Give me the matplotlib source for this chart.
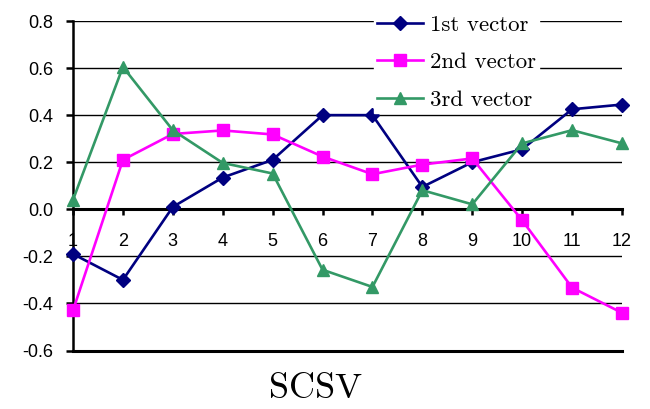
import matplotlib
matplotlib.use("Agg")
import matplotlib.pyplot as plt

x = list(range(1, 13))
x_labels = [str(i) for i in x]
first = [-0.19, -0.30, 0.01, 0.135, 0.21, 0.40, 0.40, 0.095, 0.20, 0.255, 0.425, 0.445]
second = [-0.43, 0.21, 0.32, 0.335, 0.318, 0.224, 0.149, 0.19, 0.216, -0.047, -0.333, -0.44]
third = [0.04, 0.605, 0.336, 0.197, 0.152, -0.257, -0.33, 0.081, 0.021, 0.28, 0.336, 0.28]
y_ticks = [-0.6, -0.4, -0.2, 0.0, 0.2, 0.4, 0.6, 0.8]
y_labels = ["-0.6", "-0.4", "-0.2", "0.0", "0.2", "0.4", "0.6", "0.8"]
names = ["1st vector", "2nd vector", "3rd vector"]
title = "SCSV"

fig = plt.figure(figsize=(6.5, 4.09), dpi=100)
ax = fig.add_axes([73/650, 1-350.5/409, (622-73)/650, (350.5-21)/409])

for yv in y_ticks:
    if yv in (0.0, -0.6):
        continue
    ax.axhline(yv, color="black", lw=1.0, zorder=1)
ax.axhline(-0.6, color="black", lw=2.2, zorder=1, clip_on=False)

ax.plot(x, first, color="#000080", marker="D", markersize=7, lw=1.9, label=names[0], clip_on=False, zorder=3)
ax.plot(x, second, color="#FF00FF", marker="s", markersize=8.5, lw=1.9, label=names[1], clip_on=False, zorder=3)
ax.plot(x, third, color="#339966", marker="^", markersize=8.5, lw=1.9, label=names[2], clip_on=False, zorder=3)

ax.set_xlim(1, 12)
ax.set_ylim(-0.6, 0.8)
for s in ["top", "right"]:
    ax.spines[s].set_visible(False)
ax.spines["left"].set_linewidth(1.8)
ax.spines["bottom"].set_position(("data", 0))
ax.spines["bottom"].set_linewidth(2.2)
ax.spines["bottom"].set_zorder(2)

ax.set_xticks(x)
ax.set_xticklabels(x_labels, fontsize=13, family="Liberation Sans")
ax.set_yticks(y_ticks)
ax.set_yticklabels(y_labels, fontsize=13, family="Liberation Sans")
ax.tick_params(axis="x", direction="out", length=4, width=1.8, pad=13)
ax.tick_params(axis="y", direction="out", length=5, width=1.8, pad=9)

leg = ax.legend(loc="upper left", bbox_to_anchor=(374/650, 1-11.5/409), bbox_transform=fig.transFigure,
                frameon=True, fancybox=False, edgecolor="white", facecolor="white", framealpha=1,
                prop={"family": "cmr10", "size": 16.5}, handlelength=2.0, handletextpad=0.28,
                labelspacing=0.76, borderpad=0.15, borderaxespad=0)
leg.set_zorder(5)

fig.text(316/650, 1-389/409, title, family="cmr10", fontsize=26, ha="center", va="center")

fig.savefig("out.png", dpi=100)
